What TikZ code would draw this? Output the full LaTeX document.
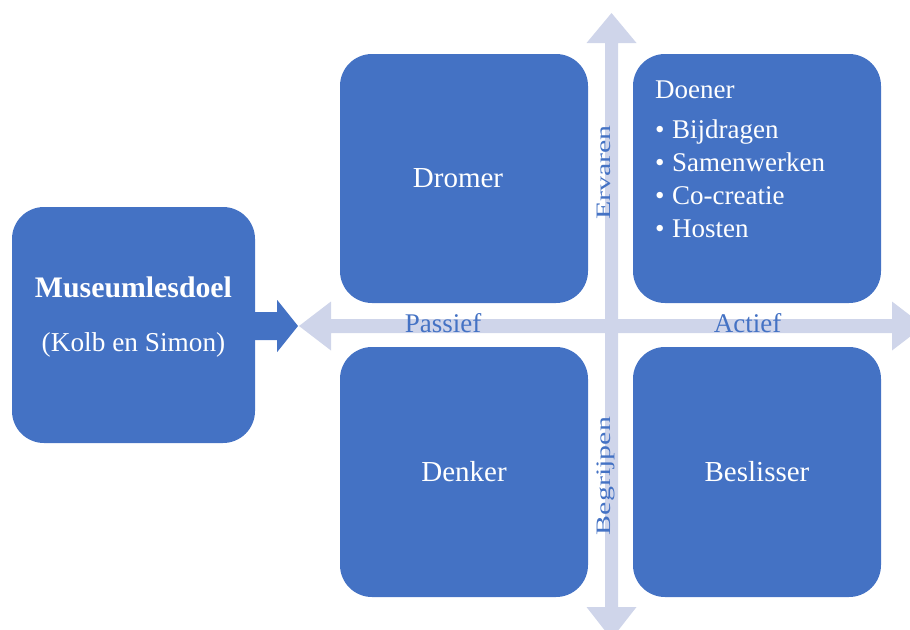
\documentclass[tikz,border=0pt]{standalone}
\usepackage{fontspec}
\setmainfont{Liberation Serif}
\usetikzlibrary{calc}
\definecolor{boxblue}{HTML}{4472C4}
\definecolor{axisblue}{HTML}{CFD5EA}
\begin{document}
\begin{tikzpicture}[x=1pt,y=-1pt,
  quad/.style={fill=boxblue, rounded corners=32pt, minimum width=248pt, minimum height=249pt,
    inner sep=0pt, text=white, font=\fontsize{29}{34}\selectfont},
  boxtext/.style={text=white, inner sep=0pt, font=\fontsize{27}{32}\selectfont},
  axislabel/.style={text=boxblue, inner sep=0pt, font=\fontsize{27}{32}\selectfont},
  vlabel/.style={text=boxblue, inner sep=0pt, rotate=90, anchor=base, font=\fontsize{20.5}{24}\selectfont},
  axisfill/.style={fill=axisblue}]
\useasboundingbox (0,0) rectangle (910,629);
\clip (0,0) rectangle (910,629);

% boxes
\node[quad, minimum width=243pt, minimum height=236pt] (museum) at (133.5,325) {};
\node[quad] (dromer) at (464,178.5) {};
\node[quad] (doener) at (757,178.5) {};
\node[quad, minimum height=250pt] (denker) at (464,472) {Denker};
\node[quad, minimum height=250pt] (beslisser) at (757,472) {Beslisser};
\node[boxtext, font=\fontsize{29}{34}\selectfont] (dromertext) at (458,178.5) {Dromer};

% museum texts
\node[boxtext, anchor=base, font=\fontsize{29.8}{34}\selectfont\bfseries] (mtitle) at (133.5,297) {Museumlesdoel};
\node[boxtext, anchor=base, font=\fontsize{27.3}{32}\selectfont] (msub) at (133.5,351) {(Kolb en Simon)};

% doener texts
\node[boxtext, anchor=base west] (dtitle) at (655,98) {Doener};
\node[boxtext, anchor=base west] (d1) at (655,138) {\makebox[17pt][l]{•}Bijdragen};
\node[boxtext, anchor=base west] (d2) at (655,171) {\makebox[17pt][l]{•}Samenwerken};
\node[boxtext, anchor=base west] (d3) at (655,204) {\makebox[17pt][l]{•}Co-creatie};
\node[boxtext, anchor=base west] (d4) at (655,237) {\makebox[17pt][l]{•}Hosten};

% axes
\coordinate (hl) at (299,326);
\coordinate (hr) at (924,326);
\coordinate (vt) at (611.5,13);
\coordinate (vb) at (611.5,639);
\fill[axisfill] (hl) -- ($(hl)+(32,-24.5)$) -- ($(hl)+(32,-7)$) -- ($(hr)+(-32,-7)$)
  -- ($(hr)+(-32,-24.5)$) -- (hr) -- ($(hr)+(-32,24.5)$) -- ($(hr)+(-32,7)$)
  -- ($(hl)+(32,7)$) -- ($(hl)+(32,24.5)$) -- cycle;
\fill[axisfill] (vt) -- ($(vt)+(25,30)$) -- ($(vt)+(6.5,30)$) -- ($(vb)+(6.5,-32)$)
  -- ($(vb)+(25,-32)$) -- (vb) -- ($(vb)+(-25,-32)$) -- ($(vb)+(-6.5,-32)$)
  -- ($(vt)+(-6.5,30)$) -- ($(vt)+(-25,30)$) -- cycle;

% connector arrow from museum box
\coordinate (tip) at (298,326);
\fill[boxblue] ($(museum.east)+(-1,-13)$) -- ($(museum.east)+(22,-13)$) -- ($(museum.east)+(22,-25)$)
  -- (tip) -- ($(museum.east)+(22,27)$) -- ($(museum.east)+(22,15)$) -- ($(museum.east)+(-1,15)$) -- cycle;

% axis labels
\node[axislabel, anchor=base] (passief) at (443,332) {Passief};
\node[axislabel, anchor=base] (actief) at (747.5,332) {Actief};
\node[vlabel] (ervaren) at (610,172.5) {\scalebox{1.46}[1]{Ervaren}};
\node[vlabel] (begrijpen) at (610,476) {\scalebox{1.46}[1]{Begrijpen}};
\end{tikzpicture}
\end{document}
